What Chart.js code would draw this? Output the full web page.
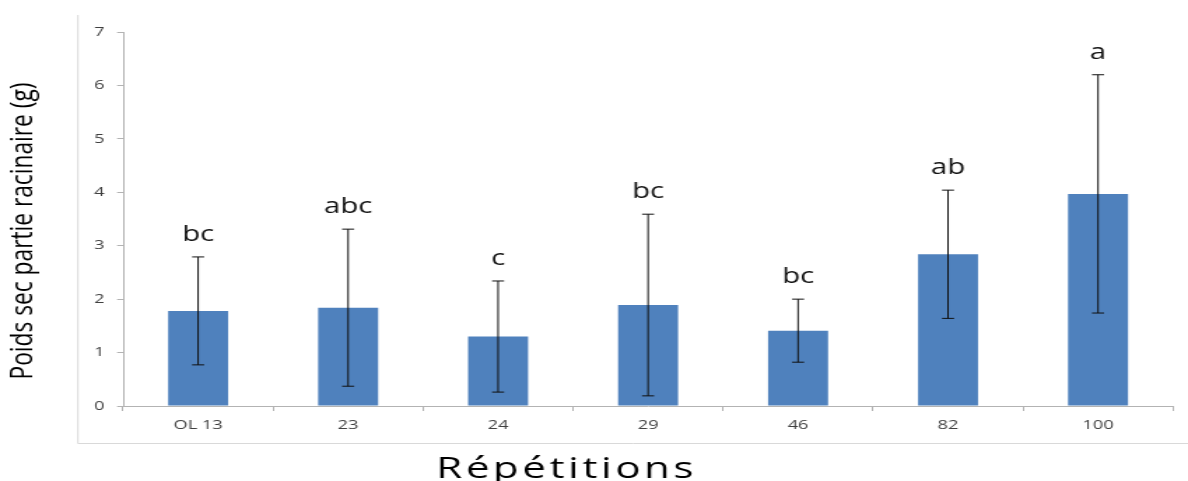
<!DOCTYPE html>
<html>
<head>
<meta charset="utf-8">
<script src="https://cdn.jsdelivr.net/npm/chart.js@4/dist/chart.umd.min.js"></script>
<style>
  html, body { margin: 0; padding: 0; background: #fff; overflow: hidden; }
  #wrap { position: absolute; left: 0; top: 0; width: 849px; height: 481px; transform: scaleX(1.39929); transform-origin: 0 0; }
</style>
</head>
<body>
<div id="wrap"><canvas id="c"></canvas></div>
<script>
const categories = ['OL 13', '23', '24', '29', '46', '82', '100'];
const means = [1.78, 1.84, 1.30, 1.89, 1.41, 2.84, 3.97];
const sds = [1.01, 1.47, 1.04, 1.70, 0.59, 1.20, 2.23];
const letters = ['bc', 'abc', 'c', 'bc', 'bc', 'ab', 'a'];
const yTicks = [0, 1, 2, 3, 4, 5, 6, 7];
const yTitle = 'Poids sec partie racinaire (g)';
const xTitle = 'Répétitions';

const axisColor = '#b3b3b3';
const FONT = "'Open Sans', 'Liberation Sans', sans-serif";

const extras = {
  id: 'extras',
  afterDatasetsDraw(chart) {
    const ctx = chart.ctx;
    const y = chart.scales.y;
    const meta = chart.getDatasetMeta(0);
    ctx.save();
    ctx.strokeStyle = '#111';
    ctx.lineWidth = 1;
    meta.data.forEach((bar, i) => {
      const x = bar.x;
      const yHi = y.getPixelForValue(means[i] + sds[i]);
      const yLo = y.getPixelForValue(Math.max(0, means[i] - sds[i]));
      ctx.beginPath();
      ctx.moveTo(x, yHi); ctx.lineTo(x, yLo);
      ctx.moveTo(x - 4.3, yHi); ctx.lineTo(x + 4.3, yHi);
      ctx.moveTo(x - 4.3, yLo); ctx.lineTo(x + 4.3, yLo);
      ctx.stroke();
      ctx.fillStyle = '#111';
      ctx.font = '21px ' + FONT;
      ctx.textAlign = 'center';
      ctx.textBaseline = 'alphabetic';
      ctx.fillText(letters[i], x, yHi - 16);
    });
    ctx.restore();
  },
  afterDraw(chart) {
    const ctx = chart.ctx;
    ctx.save();
    // outer frame (left & bottom)
    ctx.strokeStyle = '#d9d9d9';
    ctx.lineWidth = 1;
    ctx.beginPath();
    ctx.moveTo(55.7, 15); ctx.lineTo(55.7, 443.5); ctx.lineTo(chart.width, 443.5);
    ctx.stroke();
    // y title
    ctx.fillStyle = '#000';
    ctx.translate(17, 231);
    ctx.rotate(-Math.PI / 2);
    ctx.font = '21px ' + FONT;
    const w = ctx.measureText(yTitle).width;
    ctx.scale(297 / w, 1);
    ctx.textAlign = 'center';
    ctx.textBaseline = 'middle';
    ctx.fillText(yTitle, 0, 0);
    ctx.restore();
    ctx.save();
    ctx.fillStyle = '#000';
    ctx.font = '30px ' + FONT;
    ctx.letterSpacing = '2.6px';
    ctx.textAlign = 'center';
    ctx.textBaseline = 'alphabetic';
    ctx.fillText(xTitle, 405, 478);
    ctx.restore();
  }
};

new Chart(document.getElementById('c'), {
  type: 'bar',
  data: {
    labels: categories,
    datasets: [{
      data: means,
      backgroundColor: '#4F81BD',
      borderWidth: 0,
      barPercentage: 0.4,
      categoryPercentage: 1.0
    }]
  },
  options: {
    responsive: true,
    maintainAspectRatio: false,
    animation: false,
    devicePixelRatio: 1,
    layout: { padding: { left: 0, right: 10.7, top: 32, bottom: 0 } },
    plugins: { legend: { display: false }, tooltip: { enabled: false } },
    scales: {
      x: {
        grid: { display: true, drawOnChartArea: false, offset: true, tickLength: 5, color: axisColor },
        border: { color: axisColor },
        ticks: { font: { family: FONT, size: 13 }, color: '#404040', padding: 6, maxRotation: 0 },
        afterFit: s => { s.height = 75; }
      },
      y: {
        min: 0, max: 7,
        afterBuildTicks: s => { s.ticks = yTicks.map(v => ({ value: v })); },
        grid: { display: true, drawOnChartArea: false, tickLength: 4.3, color: axisColor },
        border: { color: axisColor },
        ticks: { font: { family: FONT, size: 13 }, color: '#404040', padding: 9 },
        afterFit: s => { s.width = 88; }
      }
    }
  },
  plugins: [extras]
});
</script>
</body>
</html>
